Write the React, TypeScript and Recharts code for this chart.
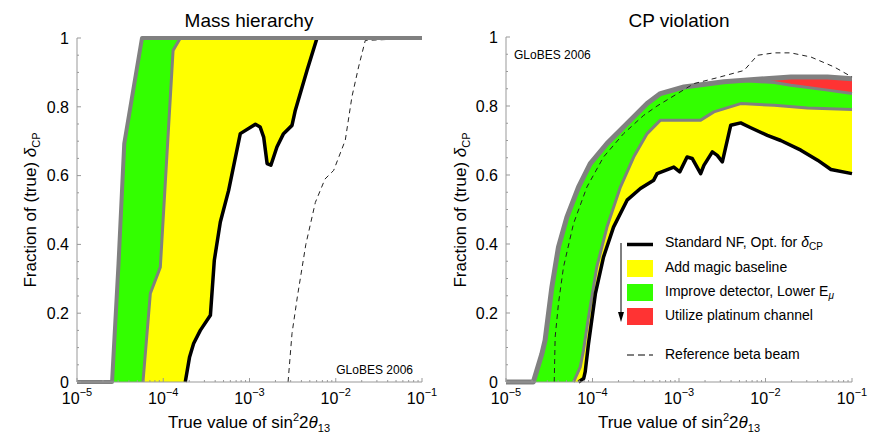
import { ComposedChart, Area, Line, XAxis, YAxis } from 'recharts';

// curves: x = sin^2 2theta13, y = fraction of delta_CP
const mhOuter = [
    { x: 1e-5, y: 0 }, { x: 2.55e-5, y: 0 }, { x: 3.03e-5, y: 0.344 }, { x: 3.53e-5, y: 0.693 },
    { x: 5.67e-5, y: 1 }, { x: 0.1, y: 1 },
];
const mhMagic = [
    { x: 5.82e-5, y: 0 }, { x: 7.08e-5, y: 0.257 }, { x: 9.25e-5, y: 0.334 }, { x: 1.3e-4, y: 0.964 },
    { x: 1.58e-4, y: 1 }, { x: 0.1, y: 1 },
];
const mhStandard = [
    { x: 1.8e-4, y: 0 }, { x: 2.02e-4, y: 0.073 }, { x: 2.25e-4, y: 0.112 }, { x: 2.69e-4, y: 0.15 },
    { x: 3.52e-4, y: 0.194 }, { x: 3.91e-4, y: 0.354 }, { x: 4.59e-4, y: 0.465 }, { x: 5.73e-4, y: 0.557 },
    { x: 7.82e-4, y: 0.722 }, { x: 1.17e-3, y: 0.749 }, { x: 1.33e-3, y: 0.741 }, { x: 1.46e-3, y: 0.712 },
    { x: 1.6e-3, y: 0.635 }, { x: 1.77e-3, y: 0.63 }, { x: 2.08e-3, y: 0.683 }, { x: 2.48e-3, y: 0.722 },
    { x: 3.11e-3, y: 0.746 }, { x: 3.4e-3, y: 0.79 }, { x: 4.65e-3, y: 0.906 }, { x: 6.07e-3, y: 1 },
    { x: 0.1, y: 1 },
];
const mhBeta = [
    { x: 2.8e-3, y: 0 }, { x: 3.11e-3, y: 0.141 }, { x: 3.6e-3, y: 0.25 }, { x: 4.5e-3, y: 0.4 },
    { x: 5.8e-3, y: 0.522 }, { x: 7.5e-3, y: 0.59 }, { x: 9.45e-3, y: 0.615 }, { x: 1.29e-2, y: 0.703 },
    { x: 1.54e-2, y: 0.829 }, { x: 1.84e-2, y: 0.916 }, { x: 2.2e-2, y: 0.993 }, { x: 0.1, y: 1 },
];

const cpOuter = [
    { x: 1e-5, y: 0 }, { x: 2.07e-5, y: 0 }, { x: 2.6e-5, y: 0.082 }, { x: 2.83e-5, y: 0.121 },
    { x: 3.39e-5, y: 0.275 }, { x: 4.04e-5, y: 0.391 }, { x: 5.06e-5, y: 0.478 }, { x: 6.89e-5, y: 0.565 },
    { x: 9.42e-5, y: 0.633 }, { x: 1.47e-4, y: 0.691 }, { x: 2.51e-4, y: 0.749 }, { x: 4.28e-4, y: 0.807 },
    { x: 6.1e-4, y: 0.836 }, { x: 1.14e-3, y: 0.855 }, { x: 3.3e-3, y: 0.87 }, { x: 5.17e-3, y: 0.874 },
    { x: 7.36e-3, y: 0.877 }, { x: 1.96e-2, y: 0.884 }, { x: 5.22e-2, y: 0.884 }, { x: 0.1, y: 0.879 },
];
const cpPlatinumLow = [
    { x: 1.26e-2, y: 0.868 }, { x: 1.96e-2, y: 0.86 }, { x: 5.22e-2, y: 0.846 }, { x: 0.1, y: 0.836 },
];
const cpMagic = [
    { x: 6.04e-5, y: 0 }, { x: 7.21e-5, y: 0.043 }, { x: 7.87e-5, y: 0.092 }, { x: 8.99e-5, y: 0.188 },
    { x: 1.12e-4, y: 0.333 }, { x: 1.47e-4, y: 0.449 }, { x: 2.1e-4, y: 0.565 }, { x: 2.99e-4, y: 0.652 },
    { x: 4.28e-4, y: 0.72 }, { x: 6.1e-4, y: 0.759 }, { x: 1.78e-3, y: 0.759 }, { x: 2.53e-3, y: 0.783 },
    { x: 5.17e-3, y: 0.807 }, { x: 1.26e-2, y: 0.802 }, { x: 3.06e-2, y: 0.794 }, { x: 0.1, y: 0.79 },
];
const cpStandard = [
    { x: 6.9e-5, y: 0 }, { x: 7.9e-5, y: 0.01 }, { x: 8.24e-5, y: 0.03 }, { x: 8.99e-5, y: 0.111 },
    { x: 1.08e-4, y: 0.256 }, { x: 1.34e-4, y: 0.362 }, { x: 1.75e-4, y: 0.449 }, { x: 2.51e-4, y: 0.527 },
    { x: 3.58e-4, y: 0.561 }, { x: 5.1e-4, y: 0.585 }, { x: 5.58e-4, y: 0.604 }, { x: 8.71e-4, y: 0.623 },
    { x: 1.02e-3, y: 0.609 }, { x: 1.24e-3, y: 0.652 }, { x: 1.42e-3, y: 0.648 }, { x: 1.78e-3, y: 0.604 },
    { x: 1.94e-3, y: 0.628 }, { x: 2.43e-3, y: 0.667 }, { x: 2.77e-3, y: 0.657 }, { x: 3.17e-3, y: 0.638 },
    { x: 3.96e-3, y: 0.744 }, { x: 5.17e-3, y: 0.751 }, { x: 6.75e-3, y: 0.737 }, { x: 1.05e-2, y: 0.715 },
    { x: 1.5e-2, y: 0.7 }, { x: 2.56e-2, y: 0.672 }, { x: 4.0e-2, y: 0.643 }, { x: 5.71e-2, y: 0.616 },
    { x: 0.1, y: 0.604 },
];
const cpBeta = [
    { x: 3.61e-5, y: 0 }, { x: 3.7e-5, y: 0.13 }, { x: 4.04e-5, y: 0.227 }, { x: 4.62e-5, y: 0.333 },
    { x: 6.03e-5, y: 0.459 }, { x: 8.61e-5, y: 0.565 }, { x: 1.34e-4, y: 0.652 }, { x: 2.29e-4, y: 0.72 },
    { x: 3.91e-4, y: 0.773 }, { x: 5.58e-4, y: 0.8 }, { x: 1.49e-3, y: 0.865 }, { x: 2.77e-3, y: 0.882 },
    { x: 5.64e-3, y: 0.903 }, { x: 8.07e-3, y: 0.947 }, { x: 1.26e-2, y: 0.954 }, { x: 1.96e-2, y: 0.954 },
    { x: 3.35e-2, y: 0.942 }, { x: 6.24e-2, y: 0.913 }, { x: 0.1, y: 0.884 },
];
// green band top follows the outer curve until the platinum band splits off
const cpGreenTop = [...cpOuter.filter((p) => p.x <= 5.17e-3), ...cpPlatinumLow];

const decades = [1e-5, 1e-4, 1e-3, 1e-2, 1e-1];
const xTicks = decades.flatMap((d, i) => (i < 4 ? [1, 2, 3, 4, 5, 6, 7, 8, 9].map((m) => m * d) : [d]));
const yLabels = [0, 0.2, 0.4, 0.6, 0.8, 1];
const yTicks = Array.from({ length: 21 }, (_, i) => i / 20);

const FONT = '"Liberation Sans", Arial, Helvetica, sans-serif';
const GRAY = '#808080';
const FRAME = '#999999';
const GREEN = '#33ff00';
const YELLOW = '#ffff00';
const RED = '#ff3333';

const isDecade = (v: number) => Math.abs(Math.log10(v) - Math.round(Math.log10(v))) < 1e-6;

const BottomTick = (props: any) => {
    const { x, y, payload } = props;
    const major = isDecade(payload.value);
    const exp = Math.round(Math.log10(payload.value));
    return (
        <g>
            <line x1={x} x2={x} y1={y} y2={y - (major ? 4 : 2)} stroke={FRAME} />
            {major && (
                <text x={x} y={y + 22} textAnchor="middle" fontSize={16} fontFamily={FONT} fill="#000">
                    <tspan>10</tspan>
                    <tspan dy={-8} fontSize={11}>{'\u2212' + Math.abs(exp)}</tspan>
                </text>
            )}
        </g>
    );
};

const TopTick = (props: any) => {
    const { x, y, payload } = props;
    const major = isDecade(payload.value);
    return <line x1={x} x2={x} y1={y} y2={y + (major ? 4 : 2)} stroke={FRAME} />;
};

const LeftTick = (props: any) => {
    const { x, y, payload } = props;
    const v = payload.value;
    const major = yLabels.some((l) => Math.abs(l - v) < 1e-6);
    return (
        <g>
            <line x1={x} x2={x + (major ? 4 : 2)} y1={y} y2={y} stroke={FRAME} />
            {major && (
                <text x={x - 8} y={y} dy="0.36em" textAnchor="end" fontSize={16} fontFamily={FONT} fill="#000">
                    {String(Math.round(v * 10) / 10)}
                </text>
            )}
        </g>
    );
};

const RightTick = (props: any) => {
    const { x, y, payload } = props;
    const major = yLabels.some((l) => Math.abs(l - payload.value) < 1e-6);
    return <line x1={x} x2={x - (major ? 4 : 2)} y1={y} y2={y} stroke={FRAME} />;
};

const frameAxes = (yWidth: number) => [
    <XAxis key="xb" dataKey="x" type="number" scale="log" domain={[1e-5, 0.1]} ticks={xTicks} interval={0}
        height={30} tickSize={0} tickMargin={0} tickLine={false} axisLine={{ stroke: FRAME }} tick={BottomTick} />,
    <XAxis key="xt" xAxisId="top" orientation="top" dataKey="x" type="number" scale="log" domain={[1e-5, 0.1]}
        allowDataOverflow ticks={xTicks} interval={0} height={0} tickSize={0} tickMargin={0} tickLine={false}
        axisLine={{ stroke: FRAME }} tick={TopTick} />,
    <YAxis key="yl" type="number" domain={[0, 1]} ticks={yTicks} interval={0} width={yWidth} tickSize={0}
        tickMargin={0} tickLine={false} axisLine={{ stroke: FRAME }} tick={LeftTick} />,
    <YAxis key="yr" yAxisId="right" orientation="right" type="number" domain={[0, 1]} allowDataOverflow
        ticks={yTicks} interval={0} width={0} tickSize={0} tickMargin={0} tickLine={false}
        axisLine={{ stroke: FRAME }} tick={RightTick} />,
];

const fillArea = (key: string, data: any[], color: string) => (
    <Area key={key} data={data} dataKey="y" type="linear" fill={color} fillOpacity={1} stroke="none"
        dot={false} activeDot={false} isAnimationActive={false} />
);

const curve = (key: string, data: any[], color: string, width: number, dash?: string) => (
    <Line key={key} data={data} dataKey="y" type="linear" stroke={color} strokeWidth={width}
        strokeDasharray={dash} strokeLinejoin="round" dot={false} activeDot={false} isAnimationActive={false} />
);

export default function App() {
    return (
        <div style={{ position: 'absolute', left: 0, top: 0, width: 893, height: 443, background: '#fff' }}>
            <div style={{ position: 'absolute', left: 0, top: 0 }}>
                <ComposedChart width={440} height={443} margin={{ top: 38, right: 18, bottom: 31, left: 0 }}>
                    {fillArea('a1', mhOuter, GREEN)}
                    {fillArea('a2', mhMagic, YELLOW)}
                    {fillArea('a3', mhStandard, '#ffffff')}
                    {curve('l4', mhBeta, '#222', 1, '5 4')}
                    {curve('l3', mhStandard, '#000', 3.5)}
                    {curve('l2', mhMagic, GRAY, 3)}
                    {curve('l1', mhOuter, GRAY, 4)}
                    {frameAxes(77)}
                </ComposedChart>
            </div>
            <div style={{ position: 'absolute', left: 440, top: 0 }}>
                <ComposedChart width={453} height={443} margin={{ top: 37, right: 41, bottom: 31, left: 0 }}>
                    {fillArea('b1', cpOuter, RED)}
                    {fillArea('b2', cpGreenTop, GREEN)}
                    {fillArea('b3', cpMagic, YELLOW)}
                    {fillArea('b4', cpStandard, '#ffffff')}
                    {curve('m2', cpGreenTop, GRAY, 3)}
                    {curve('m3', cpMagic, GRAY, 3)}
                    {curve('m1', cpOuter, GRAY, 5)}
                    {curve('m4', cpStandard, '#000', 3.5)}
                    {curve('m5', cpBeta, '#222', 1, '5 4')}
                    {frameAxes(66)}
                </ComposedChart>
            </div>
            <svg width={893} height={443} style={{ position: 'absolute', left: 0, top: 0, pointerEvents: 'none' }}
                fontFamily={FONT}>
                <text x={249} y={27} textAnchor="middle" fontSize={19}>Mass hierarchy</text>
                <text x={679} y={27} textAnchor="middle" fontSize={19}>CP violation</text>

                <text x={249} y={428} textAnchor="middle" fontSize={17}>
                    True value of sin<tspan dy={-7} fontSize={11}>2</tspan><tspan dy={7}>2</tspan>
                    <tspan fontStyle="italic">θ</tspan><tspan dy={4} fontSize={11}>13</tspan>
                </text>
                <text x={679} y={428} textAnchor="middle" fontSize={17}>
                    True value of sin<tspan dy={-7} fontSize={11}>2</tspan><tspan dy={7}>2</tspan>
                    <tspan fontStyle="italic">θ</tspan><tspan dy={4} fontSize={11}>13</tspan>
                </text>

                <text transform="translate(36,210) rotate(-90)" textAnchor="middle" fontSize={17}>
                    Fraction of (true) <tspan fontStyle="italic">δ</tspan><tspan dy={4} fontSize={11}>CP</tspan>
                </text>
                <text transform="translate(466,210) rotate(-90)" textAnchor="middle" fontSize={17}>
                    Fraction of (true) <tspan fontStyle="italic">δ</tspan><tspan dy={4} fontSize={11}>CP</tspan>
                </text>

                <text x={413} y={374} textAnchor="end" fontSize={12}>GLoBES 2006</text>
                <text x={514} y={59} fontSize={12}>GLoBES 2006</text>

                {/* legend of the CP panel */}
                <line x1={621} x2={621} y1={243} y2={314} stroke="#000" strokeWidth={1} />
                <polygon points="618,312 624,312 621,322" fill="#000" />
                <line x1={627} x2={653} y1={244.5} y2={244.5} stroke="#000" strokeWidth={3.5} />
                <rect x={627} y={260} width={26} height={17} fill={YELLOW} />
                <rect x={627} y={284} width={26} height={17} fill={GREEN} />
                <rect x={627} y={308} width={26} height={17} fill={RED} />
                <line x1={627} x2={653} y1={355} y2={355} stroke="#000" strokeWidth={1} strokeDasharray="7 4" />
                <text x={665} y={247} fontSize={14}>
                    Standard NF, Opt. for <tspan fontStyle="italic">δ</tspan><tspan dy={3} fontSize={10}>CP</tspan>
                </text>
                <text x={665} y={272} fontSize={14}>Add magic baseline</text>
                <text x={665} y={295.5} fontSize={14}>
                    Improve detector, Lower E<tspan dy={3} fontSize={10} fontStyle="italic">μ</tspan>
                </text>
                <text x={665} y={319.5} fontSize={14}>Utilize platinum channel</text>
                <text x={665} y={358.5} fontSize={14}>Reference beta beam</text>
            </svg>
        </div>
    );
}
